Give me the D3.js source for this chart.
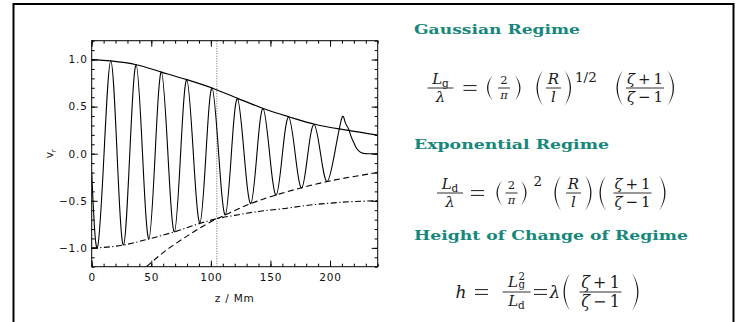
<!DOCTYPE html>
<html>
<head>
<meta charset="utf-8">
<script src="https://cdn.jsdelivr.net/npm/d3@7"></script>
<style>
  body { margin: 0; background: #fff; }
  svg { display: block; }
  .math text { font-family: 'DejaVu Serif', serif; }
  .tick text, .axis-title { font-family: 'DejaVu Sans', sans-serif; }
  .heading { font-family: 'DejaVu Serif', serif; font-weight: bold; }
</style>
</head>
<body>
<div id="chart"></div>
<script>
// NOTE: values
const xTicks = [0, 50, 100, 150, 200];
const yTicks = [-1.0, -0.5, 0.0, 0.5, 1.0];
const regimeChangeZ = 105;

// oscillating v_r : start, extrema and zero crossings, then the decaying tail
const waveZ = [0, 4.7, 10.35, 16.0, 21.3, 26.6, 31.95, 37.3, 42.65, 48.0, 53.25, 58.5,
  63.95, 69.4, 74.6, 79.8, 85.3, 90.8, 95.9, 101.0, 106.55, 112.1, 117.2, 122.3, 127.9,
  133.5, 138.65, 143.8, 149.3, 154.8, 160.05, 165.3, 170.75, 176.2, 181.4, 186.6, 192.05,
  197.5, 203.8, 209.8, 212.5, 215.3, 217.5, 219.5, 221.5, 223.7, 226, 228, 232, 240];
const waveV = [-0.2, -1.0, 0, 0.985, 0, -0.97, 0, 0.945, 0, -0.905, 0, 0.867,
  0, -0.83, 0, 0.786, 0, -0.735, 0, 0.698, 0, -0.65, 0, 0.585, 0,
  -0.53, 0, 0.48, 0, -0.44, 0, 0.39, 0, -0.365, 0, 0.31, 0,
  -0.295, 0, 0.375, 0.34, 0.27, 0.19, 0.13, 0.075, 0.035, 0.012, 0.003, 0, 0];

// upper envelope (solid)
const upperZ = [0, 16, 37.5, 58.5, 80, 101, 123, 144, 166, 188, 214, 240];
const upperV = [1.0, 0.985, 0.945, 0.867, 0.786, 0.698, 0.585, 0.48, 0.39, 0.31, 0.25, 0.198];

// exponential envelope (dashed)
const expZ = [46, 60, 80, 105, 112, 133.5, 155, 176, 197.5, 220, 240];
const expV = [-1.2, -1.05, -0.875, -0.69, -0.65, -0.53, -0.437, -0.362, -0.296, -0.242, -0.2];

// gaussian envelope (dash-dot)
const gaussZ = [0, 10, 26.6, 48, 69.4, 90.8, 105, 120, 130, 145, 160, 180, 200, 220, 240];
const gaussV = [-1.0, -0.995, -0.97, -0.905, -0.83, -0.74, -0.69, -0.655, -0.632, -0.605, -0.585, -0.55, -0.525, -0.508, -0.5];

const headings = ['Gaussian Regime', 'Exponential Regime', 'Height of Change of Regime'];

// NOTE: layout
const W = 747, H = 322;
const plot = { left: 91.7, right: 377.7, top: 40.7, bottom: 266.7 };
const teal = '#16887a';
const ink = '#1a1a1a';

const svg = d3.select('#chart').append('svg')
  .attr('width', W).attr('height', H)
  .attr('viewBox', `0 0 ${W} ${H}`);

svg.append('rect').attr('width', W).attr('height', H).attr('fill', '#fff');

// slide frame
svg.append('rect')
  .attr('x', 13.5).attr('y', 4).attr('width', 720).attr('height', 340)
  .attr('fill', 'none').attr('stroke', '#000').attr('stroke-width', 2);

const x = d3.scaleLinear().domain([0, 240]).range([plot.left, plot.right]);
const y = d3.scaleLinear().domain([-1.2, 1.2]).range([plot.bottom, plot.top]);

svg.append('clipPath').attr('id', 'plotClip')
  .append('rect')
  .attr('x', plot.left).attr('y', plot.top)
  .attr('width', plot.right - plot.left).attr('height', plot.bottom - plot.top);

const g = svg.append('g');
const curves = g.append('g').attr('clip-path', 'url(#plotClip)');

const pts = (zs, vs) => zs.map((z, i) => [z, vs[i]]);
const line = (curve) => d3.line().x(d => x(d[0])).y(d => y(d[1])).curve(curve);

// dotted line at the height of change of regime
curves.append('line')
  .attr('x1', x(regimeChangeZ)).attr('x2', x(regimeChangeZ))
  .attr('y1', plot.top).attr('y2', plot.bottom)
  .attr('stroke', '#666').attr('stroke-width', 1).attr('stroke-dasharray', '1,1.5');

curves.append('path')
  .datum(pts(gaussZ, gaussV))
  .attr('d', line(d3.curveMonotoneX))
  .attr('fill', 'none').attr('stroke', '#000').attr('stroke-width', 1.1)
  .attr('stroke-dasharray', '6,2.5,1.2,2.5');

curves.append('path')
  .datum(pts(expZ, expV))
  .attr('d', line(d3.curveMonotoneX))
  .attr('fill', 'none').attr('stroke', '#000').attr('stroke-width', 1.1)
  .attr('stroke-dasharray', '6,3.5');

curves.append('path')
  .datum(pts(upperZ, upperV))
  .attr('d', line(d3.curveMonotoneX))
  .attr('fill', 'none').attr('stroke', '#000').attr('stroke-width', 1.2);

curves.append('path')
  .datum(pts(waveZ, waveV))
  .attr('d', line(d3.curveNatural))
  .attr('fill', 'none').attr('stroke', '#000').attr('stroke-width', 1.1);

// axes: IDL style, ticks pointing inward on all four sides
const minorX = d3.range(0, 241, 10);
const minorY = d3.range(-12, 13).map(d => d / 10);

function styleAxis(sel) {
  sel.select('.domain').remove();
  sel.selectAll('line').attr('stroke', '#000').attr('stroke-width', 1);
  sel.selectAll('text').attr('font-size', 10.5).attr('fill', '#111').attr('letter-spacing', 0.8);
}

g.append('g').attr('transform', `translate(0,${plot.bottom})`)
  .call(d3.axisBottom(x).tickValues(minorX).tickSize(-3).tickFormat(''))
  .call(styleAxis);
g.append('g').attr('transform', `translate(0,${plot.top})`)
  .call(d3.axisTop(x).tickValues(minorX).tickSize(-3).tickFormat(''))
  .call(styleAxis);
g.append('g').attr('transform', `translate(${plot.left},0)`)
  .call(d3.axisLeft(y).tickValues(minorY).tickSize(-3).tickFormat(''))
  .call(styleAxis);
g.append('g').attr('transform', `translate(${plot.right},0)`)
  .call(d3.axisRight(y).tickValues(minorY).tickSize(-3).tickFormat(''))
  .call(styleAxis);

g.append('g').attr('transform', `translate(0,${plot.bottom})`)
  .call(d3.axisBottom(x).tickValues(xTicks).tickSize(-6).tickPadding(7).tickFormat(d3.format('d')))
  .call(styleAxis);
g.append('g').attr('transform', `translate(0,${plot.top})`)
  .call(d3.axisTop(x).tickValues(xTicks).tickSize(-6).tickFormat(''))
  .call(styleAxis);
g.append('g').attr('transform', `translate(${plot.left},0)`)
  .call(d3.axisLeft(y).tickValues(yTicks).tickSize(-6).tickPadding(4).tickFormat(d3.format('.1f')))
  .call(styleAxis);
g.append('g').attr('transform', `translate(${plot.right},0)`)
  .call(d3.axisRight(y).tickValues(yTicks).tickSize(-6).tickFormat(''))
  .call(styleAxis);

g.append('rect')
  .attr('x', plot.left).attr('y', plot.top)
  .attr('width', plot.right - plot.left).attr('height', plot.bottom - plot.top)
  .attr('fill', 'none').attr('stroke', '#000').attr('stroke-width', 1);

// axis titles
g.append('text')
  .attr('class', 'axis-title')
  .attr('x', (plot.left + plot.right) / 2).attr('y', 301.5)
  .attr('text-anchor', 'middle')
  .attr('font-size', 10.5).attr('fill', '#111').attr('letter-spacing', 0.8)
  .text('z / Mm');

const yTitle = g.append('text')
  .attr('class', 'axis-title')
  .attr('transform', `translate(53,${(plot.top + plot.bottom) / 2}) rotate(-90)`)
  .attr('text-anchor', 'middle')
  .attr('font-size', 10.5).attr('fill', '#111');
yTitle.append('tspan').text('v');
yTitle.append('tspan').attr('font-size', 7.5).attr('dy', 2.5).text('r');

// ---------- right-hand panel: headings and formulas ----------
const headingY = [33.5, 148.5, 240];
const headingW = [166, 195, 274];
headings.forEach((h, i) => {
  svg.append('text')
    .attr('class', 'heading')
    .attr('x', 414).attr('y', headingY[i])
    .attr('font-size', 13).attr('fill', teal)
    .attr('textLength', headingW[i]).attr('lengthAdjust', 'spacingAndGlyphs')
    .text(h);
});

const eq = svg.append('g').attr('class', 'math').attr('fill', ink);

function addRuns(sel, runs, size) {
  runs.forEach(r => {
    const s = sel.append('tspan').text(r.t);
    if (r.i) s.attr('font-style', 'italic');
    if (r.s) s.attr('font-size', size * r.s);
    if (r.dy) s.attr('dy', r.dy);
    if (r.dx) s.attr('dx', r.dx);
  });
}

// text with optional italic parts, subscripts and superscripts
function mtext(parent, cx, base, runs, size, anchor = 'middle') {
  const t = parent.append('text')
    .attr('x', cx).attr('y', base)
    .attr('text-anchor', anchor)
    .attr('font-size', size);
  addRuns(t, runs, size);
  return t;
}

function bar(parent, x1, x2, yy, sw = 0.9) {
  parent.append('line')
    .attr('x1', x1).attr('x2', x2).attr('y1', yy).attr('y2', yy)
    .attr('stroke', ink).attr('stroke-width', sw);
}

function frac(parent, cx, cy, w, num, den, size, numLift = 3.8) {
  bar(parent, cx - w / 2, cx + w / 2, cy);
  mtext(parent, cx, cy - numLift, num, size);
  mtext(parent, cx, cy + size * 0.93, den, size);
}

// equals sign drawn as two strokes on the math axis
function equals(parent, cx, cy) {
  bar(parent, cx - 6.5, cx + 6.5, cy - 2.4, 1);
  bar(parent, cx - 6.5, cx + 6.5, cy + 2.4, 1);
}

// parenthesis as a thin crescent; side 'l' or 'r'
function paren(parent, xl, xr, cy, h, side) {
  const top = cy - h / 2, bot = cy + h / 2, th = 1.3;
  let d;
  if (side === 'l') {
    const c1 = 2 * xl - xr, c2 = 2 * (xl + th) - xr;
    d = `M${xr},${top} Q${c1},${cy} ${xr},${bot} Q${c2},${cy} ${xr},${top}Z`;
  } else {
    const c1 = 2 * xr - xl, c2 = 2 * (xr - th) - xl;
    d = `M${xl},${top} Q${c1},${cy} ${xl},${bot} Q${c2},${cy} ${xl},${top}Z`;
  }
  parent.append('path').attr('d', d).attr('fill', ink);
}

const fs = 15;
const sp = '\u2009';
const Lg = [{ t: 'L', i: true }, { t: 'g', s: 0.7, dy: 2.6 }];
const Ld = [{ t: 'L', i: true }, { t: 'd', s: 0.7, dy: 2.6 }];
const Lg2 = [{ t: 'L', i: true }, { t: '2', s: 0.68, dy: -6.5, dx: 0.5 }, { t: 'g', s: 0.68, dy: 8, dx: -6.4 }];
const lam = [{ t: 'λ', i: true }];
const zp = [{ t: 'ζ', i: true }, { t: `${sp}+${sp}1` }];
const zm = [{ t: 'ζ', i: true }, { t: `${sp}−${sp}1` }];
const two = [{ t: '2' }];
const pi = [{ t: 'π', i: true }];
const Rl = [[{ t: 'R', i: true }], [{ t: 'l', i: true }]];

// Gaussian regime
{
  const cy = 88;
  frac(eq, 440.5, cy, 26, Lg, lam, fs);
  equals(eq, 470, cy);
  paren(eq, 487, 492.5, cy, 25, 'l');
  frac(eq, 504, cy, 12, two, pi, 11.5);
  paren(eq, 515, 520.5, cy, 25, 'r');
  paren(eq, 536.5, 543, cy, 36, 'l');
  frac(eq, 553.5, cy, 15, Rl[0], Rl[1], fs);
  paren(eq, 564.5, 571, cy, 36, 'r');
  mtext(eq, 575, 81.5, [{ t: '1/2' }], 13.5, 'start');
  paren(eq, 616.5, 623, cy, 36, 'l');
  frac(eq, 645, cy, 38, zp, zm, fs);
  paren(eq, 667.5, 674, cy, 36, 'r');
}

// Exponential regime
{
  const cy = 193;
  frac(eq, 450, cy, 26, Ld, lam, fs);
  equals(eq, 477.5, cy);
  paren(eq, 496.5, 502, cy, 25, 'l');
  frac(eq, 511.5, cy, 12, two, pi, 11.5);
  paren(eq, 521, 526.5, cy, 25, 'r');
  mtext(eq, 533.5, 186, two, 13.5, 'start');
  paren(eq, 554.5, 561, cy, 36, 'l');
  frac(eq, 573.5, cy, 15, Rl[0], Rl[1], fs);
  paren(eq, 585, 591.5, cy, 36, 'r');
  paren(eq, 599.5, 606, cy, 36, 'l');
  frac(eq, 632.5, cy, 38, zp, zm, fs);
  paren(eq, 659, 665.5, cy, 36, 'r');
}

// Height of change of regime
{
  const cy = 292;
  mtext(eq, 455.5, cy + 5.5, [{ t: 'h', i: true }], 17, 'start');
  equals(eq, 481.5, cy);
  frac(eq, 516.5, cy, 28, Lg2, Ld, fs, 5.5);
  equals(eq, 540.5, cy);
  mtext(eq, 555, cy + 5.5, lam, 17);
  paren(eq, 563.5, 570, cy, 38, 'l');
  frac(eq, 600.5, cy, 42, zp, zm, 16);
  paren(eq, 632, 638.5, cy, 38, 'r');
}
</script>
</body>
</html>
